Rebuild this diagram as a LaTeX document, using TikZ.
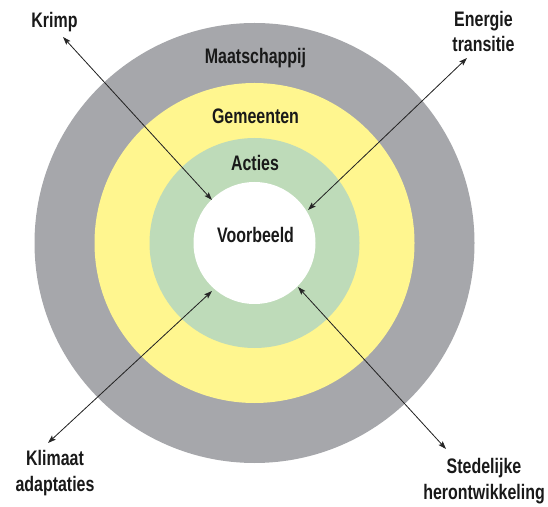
\documentclass[tikz,border=0pt]{standalone}
\usepackage{fontspec}
\setmainfont{Liberation Sans}[FakeStretch=0.76]
\usetikzlibrary{
    arrows.meta,
    positioning
}
\definecolor{greyring}{HTML}{A6A7AB}
\definecolor{yellowring}{HTML}{FFF68F}
\definecolor{greenring}{HTML}{BEDBB9}
\tikzset{
    every picture/.style = {
        > = {Stealth[length = 8pt, width = 5.5pt, inset = 1.5pt]}
    },
    ring/.style = {
        circle,
        draw = none,
        inner sep = 0pt,
        outer sep = 0pt,
        minimum size = #1
    },
    word/.style = {
        font = \fontsize{21}{25.5}\selectfont\bfseries,
        text = black!90,
        inner sep = 0pt,
        align = center,
        anchor = base
    },
    link/.style = {
        <->,
        line width = 0.8pt,
        draw = black!85,
        fill = black!85
    }
}

\begin{document}
\begin{tikzpicture}[x = 1pt, y = 1pt]
    \useasboundingbox (0,0) rectangle (548,506);
    \coordinate (mid) at (254.5,263);
    \node[ring = 440pt, fill = greyring] (maatschappij) at (mid) {};
    \node[ring = 320pt, fill = yellowring] (gemeenten) at (mid) {};
    \node[ring = 210pt, fill = greenring] (acties) at (mid) {};
    \node[ring = 122pt, fill = white] (voorbeeld) at (mid) {};

    \node[word] (maatschappijtext) at (255.5,442.5) {Maatschappij};
    \node[word] (gemeententext) at (255.5,382.5) {Gemeenten};
    \node[word] (actiestext) at (255,335.5) {Acties};
    \node[word] (voorbeeldtext) at (255.5,263) {Voorbeeld};

    \node[word] (krimp) at (54.5,478) {Krimp};
    \node[word] (energie) at (483.5,454) {Energie\\transitie};
    \node[word] (klimaat) at (55,15) {Klimaat\\adaptaties};
    \node[word] (stedelijke) at (484,7) {Stedelijke\\herontwikkeling};

    \coordinate (krimpout) at (63,469);
    \coordinate (krimpin) at (212,306);
    \coordinate (energieout) at (467,448);
    \coordinate (energiein) at (308,296);
    \coordinate (klimaatout) at (48,63);
    \coordinate (klimaatin) at (212,215);
    \coordinate (stedelijkeout) at (446,57);
    \coordinate (stedelijkein) at (298,219);

    \draw[link] (krimpout) -- (krimpin);
    \draw[link] (energieout) -- (energiein);
    \draw[link] (klimaatout) -- (klimaatin);
    \draw[link] (stedelijkeout) -- (stedelijkein);
\end{tikzpicture}
\end{document}
